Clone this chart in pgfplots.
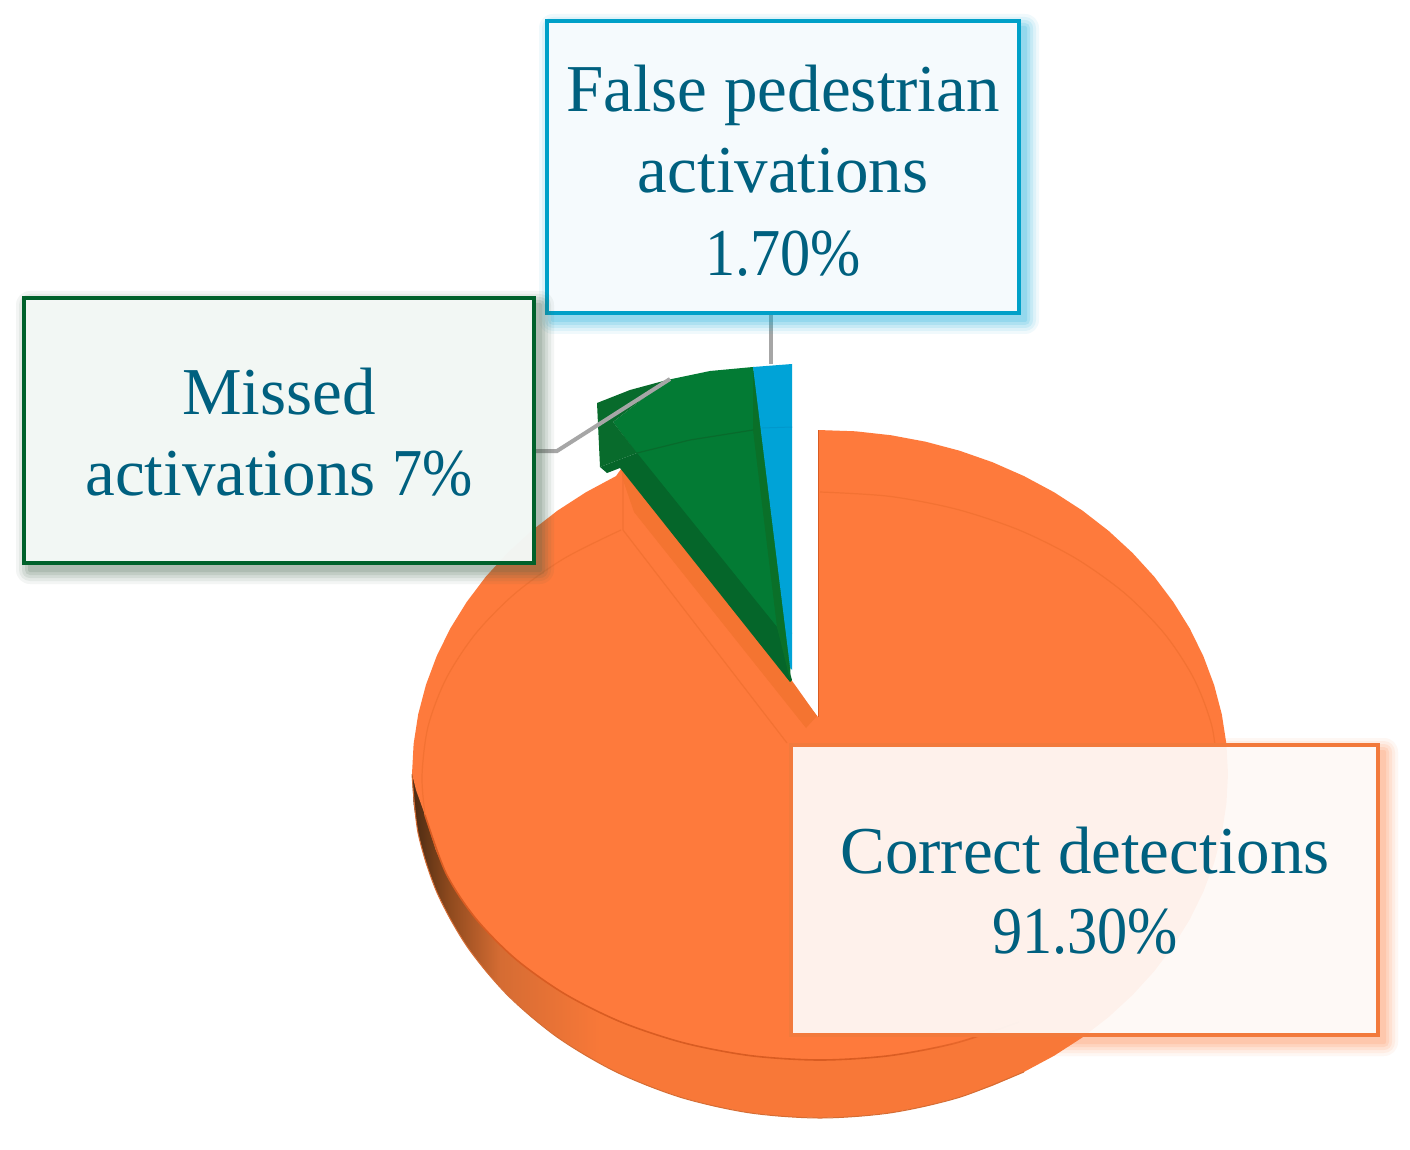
\documentclass[border=0pt]{standalone}
\usepackage{fontspec}
\setmainfont{Liberation Serif}
\usepackage{pgfplots}
\pgfplotsset{compat=1.18}
\definecolor{pieorange}{HTML}{FE7A3C}
\definecolor{pieband}{HTML}{F47431}
\definecolor{pieline}{HTML}{F37233}
\definecolor{pieedge}{HTML}{D95C22}
\definecolor{sideA}{HTML}{4A2A12}
\definecolor{sideB}{HTML}{8F4A1E}
\definecolor{sideC}{HTML}{D56C33}
\definecolor{sideD}{HTML}{F87838}
\definecolor{greenface}{HTML}{037B34}
\definecolor{greenwedge}{HTML}{0A7029}
\definecolor{greenside}{HTML}{086B2C}
\definecolor{greenlow}{HTML}{05662A}
\definecolor{pieblue}{HTML}{00A3D7}
\definecolor{blueline}{HTML}{0098CC}
\definecolor{boxblue}{HTML}{00A0C8}
\definecolor{boxgreen}{HTML}{00612B}
\definecolor{boxorange}{HTML}{F27A3C}
\definecolor{shadeblue}{HTML}{00A8D8}
\definecolor{shadegreen}{HTML}{40604A}
\definecolor{fillblue}{HTML}{F5FAFD}
\definecolor{fillgreen}{HTML}{F5F9F7}
\definecolor{leader}{HTML}{A6A6A6}
\definecolor{labeltext}{HTML}{00607F}
\pgfdeclarehorizontalshading{pieside}{100bp}{
  color(0bp)=(sideA); color(25bp)=(sideA); color(27.3bp)=(sideB);
  color(30.4bp)=(sideC); color(36.5bp)=(sideD); color(100bp)=(sideD)}
% soft box shadow: stacked translucent rectangles, sizes in pt on the page
\newcommand{\shadowlayer}[7]{%
  \fill[#5,opacity=#7,rounded corners=#6pt]
    ([shift={(3pt-#6pt,-3.5pt+#6pt)}]axis cs:#1,#2) rectangle
    ([shift={(3pt+#6pt,-3.5pt-#6pt)}]axis cs:#3,#4);}
\newcommand{\softshadow}[5]{%
  \shadowlayer{#1}{#2}{#3}{#4}{#5}{7}{0.06}
  \shadowlayer{#1}{#2}{#3}{#4}{#5}{5.5}{0.08}
  \shadowlayer{#1}{#2}{#3}{#4}{#5}{4}{0.10}
  \shadowlayer{#1}{#2}{#3}{#4}{#5}{2.5}{0.12}
  \shadowlayer{#1}{#2}{#3}{#4}{#5}{1}{0.14}}
\newcommand{\labeltxt}[3]{\node[anchor=base,text=labeltext,inner sep=0pt,
  font=\fontsize{33.5}{40}\selectfont] at (axis cs:#1,#2) {#3};}
\newcommand{\narrow}[1]{{\addfontfeature{FakeStretch=0.9}#1}}

\begin{document}
\begin{tikzpicture}
\begin{axis}[hide axis, scale only axis, width=705pt, height=574.5pt,
  xmin=0, xmax=1410, ymin=0, ymax=1149, y dir=reverse, clip=false]
\addplot[fill=white, draw=none] coordinates {(0,0) (1410,0) (1410,1149) (0,1149)} --cycle;
% side wall of the big slice
\addplot[shading=pieside, draw=none] coordinates {
  (1228,774) (1226.4,804) (1221.8,833.7) (1214.1,863) (1203.4,891.7) (1189.8,919.4) (1173.3,946)
  (1154.2,971.3) (1132.5,995.1) (1108.5,1017.2) (1082.3,1037.5) (1054,1055.8) (1024,1071.9)
  (992.4,1085.8) (959.5,1097.3) (925.6,1106.3) (890.8,1112.8) (855.6,1116.7) (820,1118)
  (784.4,1116.7) (749.2,1112.8) (714.4,1106.3) (680.5,1097.3) (647.6,1085.8) (616,1071.9)
  (586,1055.8) (557.7,1037.5) (531.5,1017.2) (507.5,995.1) (485.8,971.3) (466.7,946)
  (450.2,919.4) (436.6,891.7) (425.9,863) (418.2,833.7) (413.6,804) (412,774)} --cycle;
% top face of the big slice
\addplot[fill=pieorange, draw=none] coordinates {
  (818,717) (818,430) (855.6,431.3) (890.8,435.2) (925.6,441.7) (959.5,450.7) (992.4,462.2)
  (1024,476.1) (1054,492.2) (1082.3,510.5) (1108.5,530.8) (1132.5,552.9) (1154.2,576.7)
  (1173.3,602) (1189.8,628.6) (1203.4,656.3) (1214.1,685) (1221.8,714.3) (1226.4,744) (1228,774)
  (1218,776) (1216.5,800.8) (1212,825.3) (1204.4,849.5) (1194,873.1) (1180.7,896) (1164.7,918)
  (1146,938.9) (1124.9,958.6) (1101.4,976.8) (1075.8,993.6) (1048.3,1008.7) (1019,1022)
  (988.2,1033.4) (956.1,1042.9) (923,1050.3) (889.1,1055.7) (854.7,1058.9) (820,1060)
  (785.3,1058.9) (750.9,1055.7) (717,1050.3) (683.9,1042.9) (651.8,1033.4) (621,1022)
  (591.7,1008.7) (564.2,993.6) (538.6,976.8) (515.1,958.6) (494,938.9) (475.3,918) (459.3,896)
  (446,873.1) (435.6,849.5) (425,815) (416,790) (412,774) (413.6,744)
  (418.2,714.3) (425.9,685) (436.6,656.3) (450.2,628.6) (466.7,602) (485.8,576.7) (507.5,552.9)
  (531.5,530.8) (557.7,510.5) (586,492.2) (616,476.1) (621,469)} --cycle;
\addplot[fill=pieband, draw=none] coordinates {(621,469) (790,678) (817,716) (806,728) (634,512) (623,480)} --cycle;
% bevel lines
\addplot[draw=pieline, line width=0.6pt] coordinates {(623,472) (623,530) (787,743)};
\addplot[draw=pieline, line width=0.6pt, smooth] coordinates {
  (621,530) (564.2,558.4) (515.1,593.4) (475.3,634) (446,678.9) (428,726.7) (422,776) (425,815)};
\addplot[draw=pieline, line width=0.6pt, smooth] coordinates {
  (820,492) (889.1,496.3) (956.1,509.1) (1019,530) (1075.8,558.4) (1124.9,593.4)
  (1164.7,634) (1194,678.9) (1212,726.7) (1218,776)};
\addplot[draw=pieedge, line width=0.8pt, smooth] coordinates {
  (425,815) (446,873.1) (475.3,918) (515.1,958.6) (564.2,993.6) (621,1022)
  (683.9,1042.9) (750.9,1055.7) (820,1060) (889.1,1055.7) (956.1,1042.9) (1019,1022)};
\addplot[draw=pieedge, line width=0.5pt] coordinates {(818,430) (818,717)};
\addplot[draw=sideC, line width=0.5pt, smooth] coordinates {
  (412,774) (418.2,833.7) (436.6,891.7) (466.7,946) (507.5,995.1) (557.7,1037.5) (616,1071.9)
  (680.5,1097.3) (749.2,1112.8) (820,1118) (890.8,1112.8) (959.5,1097.3) (1024,1071.9)};
% green slice
\addplot[fill=greenface, draw=none] coordinates {(613,422) (667,380) (710,371) (753,367) (790,680) (640,458)} --cycle;
\addplot[fill=greenside, draw=none] coordinates {(597,403) (630,390) (667,380) (613,422) (637,453) (600,467)} --cycle;
\addplot[fill=greenlow, draw=none] coordinates {(600,467) (637,453) (777,627) (792,680) (790,682) (620,468) (607,473)} --cycle;
\addplot[fill=greenwedge, draw=none] coordinates {(753,367) (765,433) (792,633) (790,680) (777,627) (753,430)} --cycle;
\addplot[draw=greenside, line width=0.6pt] coordinates {(637,453) (690,440) (753,430)};
% blue slice
\addplot[fill=pieblue, draw=none] coordinates {(753,367) (792,364) (792,670) (790,667)} --cycle;
\addplot[draw=blueline, line width=0.5pt] coordinates {(762,428) (792,427)};
% leader lines
\addplot[draw=leader, line width=2pt] coordinates {(534,451) (557,451) (670,379)};
\addplot[draw=leader, line width=2pt] coordinates {(771,313) (771,364)};
% label boxes
\softshadow{547}{21}{1019}{313}{shadeblue}
\draw[draw=boxblue, line width=2.2pt, fill=fillblue] (axis cs:547,21) rectangle (axis cs:1019,313);
\softshadow{24}{298}{534}{563}{shadegreen}
\draw[draw=boxgreen, line width=2.2pt, fill=fillgreen, fill opacity=0.97] (axis cs:24,298) rectangle (axis cs:534,563);
\softshadow{791}{745}{1378}{1035}{pieorange}
\fill[fill=white, fill opacity=0.9] (axis cs:791,745) rectangle (axis cs:1378,1035);
\draw[draw=boxorange, line width=2.2pt] (axis cs:791,745) rectangle (axis cs:1378,1035);
% label text
\labeltxt{783}{112}{False pedestrian}
\labeltxt{783}{193}{activations}
\labeltxt{783}{276}{\narrow{1.70\%}}
\labeltxt{279}{414}{Missed}
\labeltxt{279}{495}{activations \narrow{7\%}}
\labeltxt{1085}{873}{Correct detections}
\labeltxt{1085}{953}{\narrow{91.30\%}}
\end{axis}
\end{tikzpicture}
\end{document}
